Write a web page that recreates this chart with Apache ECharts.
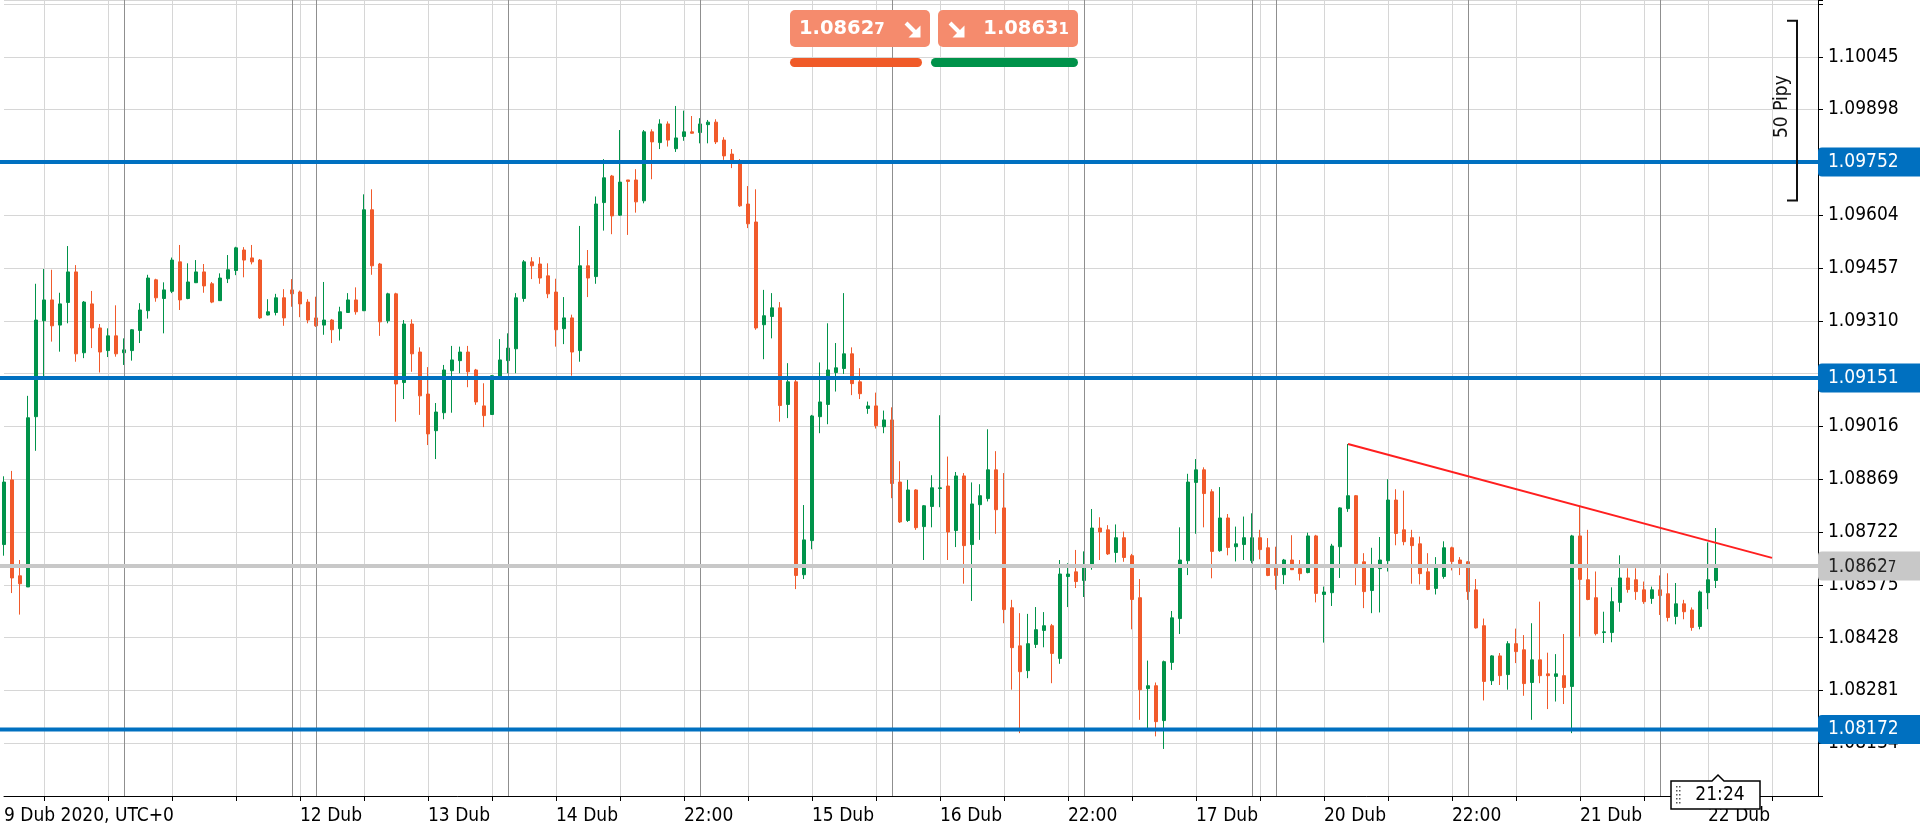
<!DOCTYPE html>
<html><head><meta charset="utf-8">
<script src="https://cdn.jsdelivr.net/npm/echarts@6/dist/echarts.min.js"></script>
<style>html,body{margin:0;padding:0;background:#fff;overflow:hidden}#c{width:1920px;height:832px}</style>
</head><body><div id="c"></div>
<script>
// ---- DATA (EURUSD H1) ----
const opens = [1.08687,1.08867,1.08600,1.08569,1.09043,1.09310,1.09368,1.09298,1.09361,1.09446,
1.09221,1.09357,1.09290,1.09227,1.09268,1.09221,1.09227,1.09283,1.09338,1.09424,
1.09372,1.09392,1.09474,1.09372,1.09416,1.09446,1.09413,1.09366,1.09427,1.09450,
1.09507,1.09485,1.09479,1.09326,1.09333,1.09374,1.09396,1.09390,1.09362,1.09318,
1.09298,1.09312,1.09288,1.09333,1.09368,1.09338,1.09619,1.09468,1.09310,1.09385,
1.09138,1.09301,1.09223,1.09106,1.09004,1.09054,1.09171,1.09199,1.09223,1.09173,
1.09073,1.09049,1.09155,1.09199,1.09232,1.09372,1.09474,1.09468,1.09435,1.09390,
1.09288,1.09318,1.09227,1.09463,1.09433,1.09639,1.09713,1.09604,1.09702,1.09702,
1.09644,1.09836,1.09806,1.09858,1.09789,1.09823,1.09836,1.09834,1.09856,1.09863,
1.09813,1.09774,1.09747,1.09635,1.09585,1.09299,1.09322,1.09346,1.09077,1.09140,
1.08603,1.08698,1.09043,1.09077,1.09166,1.09177,1.09218,1.09140,1.09066,1.09073,
1.09015,1.09034,1.08861,1.08754,1.08839,1.08737,1.08793,1.08843,1.08850,1.08726,
1.08878,1.08687,1.08798,1.08815,1.08895,1.08789,1.08511,1.08405,1.08336,1.08409,
1.08448,1.08461,1.08370,1.08598,1.08611,1.08587,1.08633,1.08733,1.08728,1.08665,
1.08706,1.08656,1.08539,1.08286,1.08294,1.08197,1.08359,1.08481,1.08642,1.08860,
1.08895,1.08834,1.08670,1.08761,1.08681,1.08687,1.08642,1.08706,1.08678,1.08626,
1.08603,1.08644,1.08620,1.08609,1.08711,1.08548,1.08553,1.08681,1.08787,1.08823,
1.08639,1.08559,1.08620,1.08642,1.08811,1.08728,1.08706,1.08689,1.08611,1.08565,
1.08598,1.08678,1.08644,1.08639,1.08561,1.08461,1.08308,1.08377,1.08325,1.08411,
1.08394,1.08303,1.08366,1.08327,1.08320,1.08322,1.08292,1.08711,1.08589,1.08539,
1.08442,1.08442,1.08526,1.08594,1.08589,1.08561,1.08537,1.08561,1.08550,1.08487,
1.08522,1.08505,1.08459,1.08553,1.08587];
const highs = [1.08877,1.08892,1.08644,1.09101,1.09413,1.09454,1.09452,1.09388,1.09518,1.09465,
1.09365,1.09393,1.09301,1.09289,1.09353,1.09261,1.09287,1.09359,1.09438,1.09427,
1.09417,1.09486,1.09521,1.09470,1.09479,1.09468,1.09418,1.09442,1.09493,1.09516,
1.09515,1.09521,1.09482,1.09370,1.09385,1.09398,1.09426,1.09394,1.09370,1.09377,
1.09418,1.09315,1.09349,1.09387,1.09403,1.09662,1.09676,1.09471,1.09388,1.09388,
1.09312,1.09314,1.09236,1.09181,1.09081,1.09187,1.09240,1.09238,1.09240,1.09176,
1.09136,1.09159,1.09259,1.09275,1.09387,1.09479,1.09487,1.09487,1.09470,1.09427,
1.09376,1.09327,1.09574,1.09507,1.09656,1.09760,1.09716,1.09841,1.09702,1.09732,
1.09841,1.09843,1.09871,1.09865,1.09908,1.09895,1.09880,1.09874,1.09869,1.09871,
1.09821,1.09788,1.09760,1.09685,1.09676,1.09396,1.09387,1.09362,1.09192,1.09155,
1.08797,1.09048,1.09194,1.09303,1.09248,1.09387,1.09236,1.09178,1.09085,1.09110,
1.09060,1.09069,1.08919,1.08867,1.08841,1.08797,1.08880,1.09047,1.08932,1.08889,
1.08886,1.08860,1.08855,1.09008,1.08947,1.08886,1.08533,1.08496,1.08494,1.08513,
1.08499,1.08466,1.08644,1.08635,1.08672,1.08668,1.08786,1.08763,1.08741,1.08743,
1.08723,1.08661,1.08591,1.08364,1.08303,1.08364,1.08502,1.08735,1.08884,1.08925,
1.08902,1.08841,1.08847,1.08772,1.08737,1.08765,1.08774,1.08728,1.08705,1.08681,
1.08647,1.08713,1.08644,1.08720,1.08714,1.08570,1.08689,1.08791,1.08967,1.08825,
1.08663,1.08678,1.08708,1.08869,1.08841,1.08837,1.08728,1.08709,1.08663,1.08652,
1.08696,1.08681,1.08652,1.08641,1.08591,1.08481,1.08379,1.08385,1.08418,1.08453,
1.08435,1.08468,1.08528,1.08386,1.08382,1.08438,1.08714,1.08795,1.08728,1.08612,
1.08500,1.08568,1.08657,1.08621,1.08621,1.08584,1.08570,1.08601,1.08607,1.08580,
1.08533,1.08512,1.08559,1.08693,1.08733];
const lows = [1.08656,1.08552,1.08492,1.08569,1.08948,1.09154,1.09252,1.09224,1.09303,1.09196,
1.09206,1.09234,1.09166,1.09209,1.09210,1.09187,1.09199,1.09248,1.09316,1.09363,
1.09275,1.09387,1.09340,1.09370,1.09415,1.09388,1.09359,1.09365,1.09415,1.09437,
1.09431,1.09467,1.09315,1.09325,1.09325,1.09296,1.09349,1.09320,1.09303,1.09293,
1.09271,1.09248,1.09255,1.09332,1.09327,1.09337,1.09438,1.09268,1.09303,1.09029,
1.09092,1.09168,1.09048,1.08964,1.08925,1.09036,1.09054,1.09164,1.09125,1.09076,
1.09014,1.09048,1.09154,1.09164,1.09164,1.09363,1.09426,1.09413,1.09373,1.09238,
1.09245,1.09157,1.09196,1.09376,1.09413,1.09561,1.09551,1.09602,1.09549,1.09611,
1.09637,1.09704,1.09788,1.09795,1.09780,1.09811,1.09831,1.09804,1.09804,1.09802,
1.09758,1.09735,1.09627,1.09568,1.09285,1.09203,1.09261,1.09029,1.09039,1.08563,
1.08591,1.08674,1.08997,1.09022,1.09113,1.09162,1.09103,1.09092,1.09051,1.09010,
1.08997,1.08816,1.08747,1.08750,1.08728,1.08644,1.08735,1.08791,1.08644,1.08680,
1.08578,1.08530,1.08700,1.08807,1.08717,1.08468,1.08283,1.08162,1.08315,1.08399,
1.08401,1.08301,1.08355,1.08513,1.08566,1.08541,1.08617,1.08644,1.08658,1.08637,
1.08639,1.08451,1.08199,1.08173,1.08153,1.08118,1.08338,1.08438,1.08602,1.08717,
1.08735,1.08593,1.08667,1.08657,1.08640,1.08644,1.08635,1.08646,1.08599,1.08561,
1.08577,1.08616,1.08587,1.08607,1.08526,1.08414,1.08516,1.08594,1.08778,1.08574,
1.08510,1.08496,1.08498,1.08612,1.08685,1.08685,1.08578,1.08576,1.08560,1.08548,
1.08592,1.08615,1.08602,1.08533,1.08453,1.08253,1.08296,1.08296,1.08283,1.08357,
1.08266,1.08199,1.08301,1.08229,1.08250,1.08243,1.08162,1.08431,1.08532,1.08434,
1.08413,1.08415,1.08500,1.08553,1.08533,1.08522,1.08522,1.08491,1.08473,1.08465,
1.08479,1.08447,1.08451,1.08507,1.08566];
const closes = [1.08861,1.08594,1.08578,1.09040,1.09312,1.09368,1.09296,1.09357,1.09446,1.09218,
1.09362,1.09290,1.09223,1.09268,1.09218,1.09229,1.09285,1.09340,1.09429,1.09374,
1.09396,1.09479,1.09368,1.09418,1.09446,1.09407,1.09362,1.09429,1.09452,1.09513,
1.09479,1.09474,1.09318,1.09335,1.09374,1.09318,1.09385,1.09357,1.09312,1.09296,
1.09312,1.09285,1.09335,1.09368,1.09335,1.09619,1.09463,1.09307,1.09385,1.09134,
1.09301,1.09218,1.09101,1.08995,1.09056,1.09173,1.09201,1.09223,1.09168,1.09084,
1.09046,1.09157,1.09201,1.09234,1.09374,1.09474,1.09463,1.09429,1.09385,1.09285,
1.09318,1.09223,1.09463,1.09429,1.09635,1.09708,1.09602,1.09696,1.09698,1.09641,
1.09836,1.09808,1.09858,1.09813,1.09819,1.09836,1.09832,1.09858,1.09863,1.09808,
1.09769,1.09752,1.09630,1.09580,1.09290,1.09324,1.09346,1.09074,1.09140,1.08601,
1.08700,1.09045,1.09084,1.09173,1.09179,1.09218,1.09135,1.09107,1.09073,1.09018,
1.09034,1.08857,1.08750,1.08839,1.08734,1.08795,1.08845,1.08845,1.08722,1.08878,
1.08684,1.08800,1.08823,1.08895,1.08784,1.08506,1.08400,1.08333,1.08411,1.08450,
1.08461,1.08384,1.08605,1.08605,1.08584,1.08622,1.08733,1.08722,1.08661,1.08706,
1.08651,1.08534,1.08283,1.08294,1.08194,1.08361,1.08483,1.08644,1.08861,1.08895,
1.08829,1.08668,1.08761,1.08679,1.08689,1.08706,1.08706,1.08673,1.08601,1.08601,
1.08644,1.08617,1.08606,1.08711,1.08551,1.08555,1.08683,1.08789,1.08823,1.08634,
1.08556,1.08622,1.08644,1.08811,1.08718,1.08695,1.08684,1.08606,1.08562,1.08622,
1.08678,1.08640,1.08634,1.08556,1.08455,1.08306,1.08377,1.08322,1.08411,1.08389,
1.08300,1.08366,1.08322,1.08322,1.08327,1.08289,1.08711,1.08590,1.08534,1.08439,
1.08444,1.08528,1.08594,1.08562,1.08556,1.08528,1.08561,1.08545,1.08484,1.08522,
1.08500,1.08456,1.08555,1.08589,1.08627];

const slotCount = 228;                       // hourly slots on the axis (incl. empty space on the right)
const xLabelIdx  = [0, 37, 53, 69, 85, 101, 117, 133, 149, 165, 181, 197, 213];
const xLabelText = ['9 Dub 2020, UTC+0', '12 Dub', '13 Dub', '14 Dub', '22:00', '15 Dub', '16 Dub', '22:00', '17 Dub', '20 Dub', '22:00', '21 Dub', '22 Dub'];
const dayLineIdx = [15, 36, 39, 63, 87, 111, 135, 156, 159, 183, 207];
const levelValues = [1.09752, 1.09151, 1.08172];
const lastPrice = 1.08627;
const sellPrice = 1.08627, buyPrice = 1.08631;
const trendStart = [168, 1.08967], trendEnd = [221, 1.08650];
const yMin = 1.07987, yMax = 1.10203, yStep = 0.00147;
const bracketTop = 1.10145, bracketPips = 50, bracketText = '50 Pipy';
const nowLabel = '21:24', nowIdx = 214;

// ---- CHART ----
const FONT = "'DejaVu Sans Condensed', 'DejaVu Sans', sans-serif";
const UP = '#00934A', DOWN = '#F15A2B', BLUE = '#0070C0', GRAYLINE = '#C8C8C8';
const slots = Array.from({length: slotCount}, (_, i) => 'h' + i);
const labelOf = {};
xLabelIdx.forEach((k, j) => { labelOf[k] = xLabelText[j]; });
const candles = opens.map((o, i) => [o, closes[i], lows[i], highs[i]]);
const gridEvery = (i) => i % 8 === 5;

const chart = echarts.init(document.getElementById('c'), null, {renderer: 'canvas'});
const option = {
  animation: false,
  backgroundColor: '#ffffff',
  grid: {left: 4, top: 0, width: 1816, height: 796, containLabel: false},
  xAxis: {
    type: 'category', data: slots, boundaryGap: false,
    axisLine: {show: true, onZero: false, lineStyle: {color: '#000', width: 1}},
    axisTick: {show: true, interval: gridEvery, length: 5, lineStyle: {color: '#000'}},
    axisLabel: {show: true, interval: (i) => labelOf[i] !== undefined, formatter: (v, i) => labelOf[i] || '',
      align: 'left', margin: 11, color: '#000', fontSize: 19, fontFamily: FONT},
    splitLine: {show: true, interval: gridEvery, lineStyle: {color: '#D6D6D6', width: 1}}
  },
  yAxis: {
    type: 'value', position: 'right', offset: -2, min: yMin, max: yMax, interval: yStep,
    axisLine: {show: true, lineStyle: {color: '#000', width: 1}},
    axisTick: {show: true, length: 5, lineStyle: {color: '#000'}},
    axisLabel: {margin: 10, color: '#000', fontSize: 19, fontFamily: FONT,
      formatter: (v) => (v > 1.1010 || v < 1.0800) ? '' : v.toFixed(5)},
    splitLine: {show: true, lineStyle: {color: '#D6D6D6', width: 1}}
  },
  series: [
    {type: 'line', data: [], z: 1, silent: true,
     markLine: {symbol: 'none', silent: true, animation: false, label: {show: false},
       lineStyle: {color: '#8F8F8F', width: 1, type: 'solid'},
       data: dayLineIdx.map(i => ({xAxis: i}))}},
    {type: 'candlestick', z: 2, barWidth: 4, clip: false, data: candles,
     itemStyle: {color: UP, color0: DOWN, borderColor: UP, borderColor0: DOWN, borderWidth: 1}},
    {type: 'line', data: [], z: 5, silent: true,
     markLine: {symbol: 'none', silent: true, animation: false, label: {show: false},
       data: [
         [{coord: trendStart, lineStyle: {color: '#FF1F1F', width: 2, type: 'solid'}},
          {coord: trendEnd, lineStyle: {color: '#FF1F1F', width: 2, type: 'solid'}}]
       ]}}
  ]
};
chart.setOption(option);

// ---- overlays placed through the chart's own scales ----
const yp = v => chart.convertToPixel({yAxisIndex: 0}, v);
const xp = i => chart.convertToPixel({xAxisIndex: 0}, i);
const axisX = xp(slotCount - 1) - 2;
const g = [];
const split = v => { const s = v.toFixed(5); return [s.slice(0, -1), s.slice(-1)]; };

// horizontal price levels
levelValues.forEach(v => {
  const y = yp(v);
  g.push({type: 'line', z: 50, shape: {x1: 0, y1: y, x2: axisX, y2: y}, style: {stroke: BLUE, lineWidth: 4}});
  g.push({type: 'rect', z: 100, shape: {x: axisX, y: y - 14.5, width: 1920 - axisX + 6, height: 29, r: [4, 0, 0, 4]}, style: {fill: BLUE}});
  g.push({type: 'text', z: 101, x: axisX + 10, y: y, style: {text: v.toFixed(5), fill: '#fff', font: '19px ' + FONT, verticalAlign: 'middle', align: 'left'}});
});
{
  const y = yp(lastPrice); const [a, b] = split(lastPrice);
  g.push({type: 'line', z: 49, shape: {x1: 0, y1: y, x2: axisX, y2: y}, style: {stroke: GRAYLINE, lineWidth: 4}});
  g.push({type: 'rect', z: 100, shape: {x: axisX, y: y - 14.5, width: 1920 - axisX + 6, height: 29, r: [4, 0, 0, 4]}, style: {fill: GRAYLINE}});
  g.push({type: 'text', z: 101, x: axisX + 10, y: y + 1, style: {text: '{a|' + a + '}{b|' + b + '}', verticalAlign: 'middle', align: 'left',
    rich: {a: {fontSize: 19, fontFamily: FONT, fill: '#222'}, b: {fontSize: 15, fontFamily: FONT, fill: '#222', padding: [3, 0, 0, 0]}}}});
}

// buy / sell buttons
{
  const [sa, sb] = split(sellPrice), [ba, bb] = split(buyPrice);
  g.push({type: 'rect', z: 100, shape: {x: 790, y: 10, width: 140, height: 37, r: 5}, style: {fill: '#F58B6D'}});
  g.push({type: 'rect', z: 100, shape: {x: 938, y: 10, width: 140, height: 37, r: 5}, style: {fill: '#F58B6D'}});
  const rich = {a: {fontSize: 19.5, fontWeight: 'bold', fontFamily: "'DejaVu Sans', sans-serif", fill: '#ffffff'},
                b: {fontSize: 15, fontWeight: 'bold', fontFamily: "'DejaVu Sans', sans-serif", fill: '#ffffff', padding: [3, 0, 0, 0]}};
  g.push({type: 'text', z: 101, x: 799, y: 29, style: {text: '{a|' + sa + '}{b|' + sb + '}', rich, fill: '#ffffff', verticalAlign: 'middle', align: 'left'}});
  g.push({type: 'text', z: 101, x: 1069, y: 29, style: {text: '{a|' + ba + '}{b|' + bb + '}', rich, fill: '#ffffff', verticalAlign: 'middle', align: 'right'}});
  const arrow = (x, y) => {
    g.push({type: 'polyline', z: 102, shape: {points: [[x, y], [x + 11, y + 11]]}, style: {stroke: '#fff', lineWidth: 4, fill: null}});
    g.push({type: 'polygon', z: 102, shape: {points: [[x + 14.5, y + 14.5], [x + 14.5, y + 2.5], [x + 2.5, y + 14.5]]}, style: {fill: '#fff'}});
  };
  arrow(906, 23);
  arrow(950, 23);
  g.push({type: 'rect', z: 100, shape: {x: 790, y: 58, width: 132, height: 9, r: 4.5}, style: {fill: '#F05A28'}});
  g.push({type: 'rect', z: 100, shape: {x: 931, y: 58, width: 147, height: 9, r: 4.5}, style: {fill: '#00924A'}});
}

// 50 pip bracket
{
  const yt = yp(bracketTop), yb = yp(bracketTop - bracketPips * 0.0001);
  g.push({type: 'polyline', z: 100, shape: {points: [[1787, yt], [1797, yt], [1797, yb], [1787, yb]]}, style: {stroke: '#111', lineWidth: 2, fill: null}});
  g.push({type: 'text', z: 100, x: 1782, y: (yt + yb) / 2 - 4, rotation: Math.PI / 2,
    style: {text: bracketText, font: '19px ' + FONT, fill: '#111', align: 'center', verticalAlign: 'middle'}});
}

// current time marker on the x axis
{
  const cx = xp(nowIdx), top = 781, bot = 809, l = cx - 45, r = cx + 44;
  g.push({type: 'polygon', z: 110, shape: {points: [[l, top], [cx - 4, top], [cx + 2, top - 6], [cx + 8, top], [r, top], [r, bot], [l, bot]]},
    style: {fill: '#fff', stroke: '#000', lineWidth: 1.5}});
  g.push({type: 'text', z: 111, x: cx + 4, y: (top + bot) / 2, style: {text: nowLabel, font: '19px ' + FONT, fill: '#000', align: 'center', verticalAlign: 'middle'}});
  for (let k = 0; k < 5; k++) {
    g.push({type: 'rect', z: 111, shape: {x: l + 5, y: top + 5 + k * 4, width: 1.5, height: 1.5}, style: {fill: '#555'}});
    g.push({type: 'rect', z: 111, shape: {x: l + 8, y: top + 5 + k * 4, width: 1.5, height: 1.5}, style: {fill: '#555'}});
  }
}

chart.setOption({graphic: {elements: g}});
</script>
</body></html>
